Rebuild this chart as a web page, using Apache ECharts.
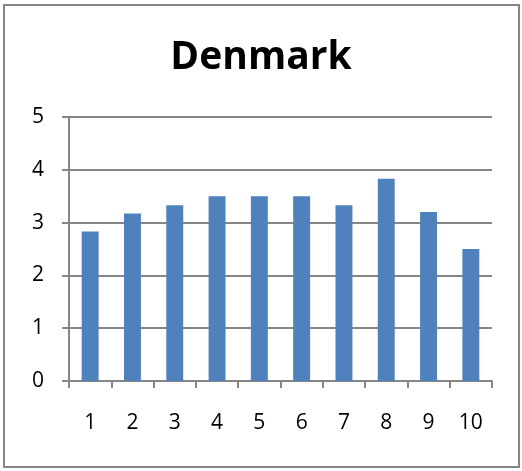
<!DOCTYPE html>
<html>
<head>
<meta charset="utf-8">
<script src="https://cdn.jsdelivr.net/npm/echarts@6/dist/echarts.min.js"></script>
<style>
  html, body { margin: 0; padding: 0; background: #fff; }
  #chart { width: 522px; height: 471px; }
</style>
</head>
<body>
<div id="chart"></div>
<script>
// data
const categories = ['1', '2', '3', '4', '5', '6', '7', '8', '9', '10']
const values = [2.83, 3.17, 3.33, 3.5, 3.5, 3.5, 3.33, 3.83, 3.2, 2.5]
const yTicks = { min: 0, max: 5, interval: 1 }

const fontFamily = '"Open Sans", "Noto Sans", sans-serif'
const gray = '#868686'

const chart = echarts.init(document.getElementById('chart'))

chart.setOption({
  animation: false,
  backgroundColor: '#fff',
  title: {
    text: 'Denmark',
    left: 'center',
    top: 33,
    textStyle: {
      fontFamily: fontFamily,
      fontSize: 39,
      fontWeight: 'bold',
      color: '#000'
    }
  },
  graphic: [
    {
      type: 'rect',
      shape: { x: 4, y: 5, width: 515, height: 462 },
      style: { fill: 'none', stroke: gray, lineWidth: 2 },
      silent: true
    }
  ],
  grid: {
    left: 69,
    right: 30,
    top: 117,
    bottom: 90
  },
  xAxis: {
    type: 'category',
    data: categories,
    boundaryGap: true,
    axisLine: { lineStyle: { color: gray, width: 2 } },
    axisTick: { show: true, length: 7, lineStyle: { color: gray, width: 2 } },
    axisLabel: {
      margin: 32,
      fontFamily: fontFamily,
      fontSize: 21,
      color: '#000'
    }
  },
  yAxis: {
    type: 'value',
    min: yTicks.min,
    max: yTicks.max,
    interval: yTicks.interval,
    axisLine: { show: true, lineStyle: { color: gray, width: 2 } },
    axisTick: { show: true, length: 7, lineStyle: { color: gray, width: 2 } },
    splitLine: { show: true, lineStyle: { color: gray, width: 2 } },
    axisLabel: {
      margin: 25,
      fontFamily: fontFamily,
      fontSize: 21,
      color: '#000'
    }
  },
  series: [
    {
      type: 'bar',
      data: values,
      barWidth: '40%',
      itemStyle: { color: '#4f81bd' }
    }
  ]
})
</script>
</body>
</html>
